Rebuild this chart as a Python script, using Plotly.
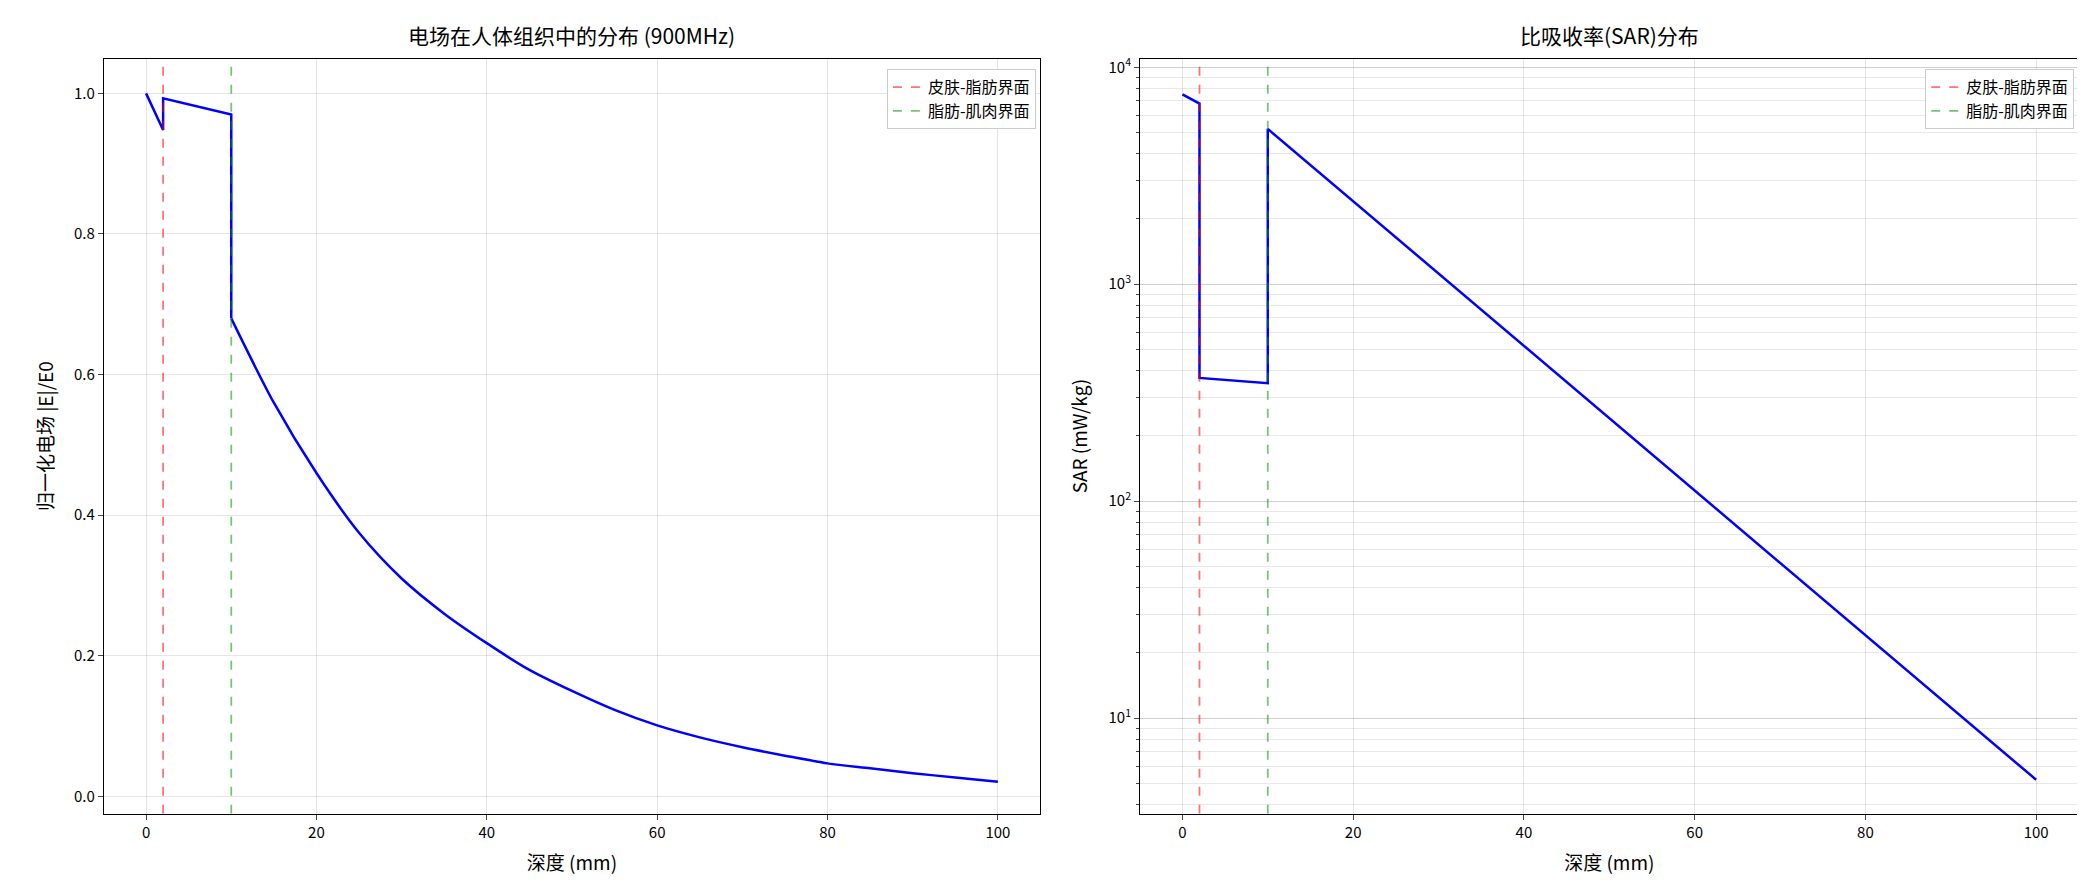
import plotly.graph_objects as go
from plotly.subplots import make_subplots

depth_e_near = [0, 2, 2, 10, 10]
e_field_near = [1.0, 0.948, 0.993, 0.970, 0.680]
depth_e_far = [10, 15, 20, 25, 30, 35, 40, 45, 50, 55, 60, 65, 70, 75, 80, 85, 90, 95, 100]
e_field_far = [0.680, 0.560, 0.460, 0.375, 0.310, 0.260, 0.218, 0.180, 0.150, 0.123, 0.101, 0.084, 0.070, 0.058, 0.047, 0.040, 0.033, 0.027, 0.021]
depth_sar = [0, 2, 2, 10, 10, 100]
sar = [7500, 6800, 370, 350, 5200, 5.2]
skin_fat = 2
fat_muscle = 10
sar_tickvals = [10, 100, 1000, 10000]
sar_ticktext = ["10<sup>1</sup>", "10<sup>2</sup>", "10<sup>3</sup>", "10<sup>4</sup>"]

font = "Noto Sans CJK SC"
fig = make_subplots(rows=1, cols=2)
fig.add_trace(go.Scatter(x=depth_e_near, y=e_field_near, mode="lines", line=dict(color="blue", width=2.5), showlegend=False), 1, 1)
fig.add_trace(go.Scatter(x=depth_e_far, y=e_field_far, mode="lines", line=dict(color="blue", width=2.5, shape="spline", smoothing=0.8), showlegend=False), 1, 1)
fig.add_trace(go.Scatter(x=depth_sar, y=sar, mode="lines", line=dict(color="blue", width=2.5), showlegend=False), 1, 2)
for col, lg in [(1, "legend"), (2, "legend2")]:
    xa = "x" if col == 1 else "x2"
    for xv, c, name in [(skin_fat, "rgba(255,0,0,0.55)", "皮肤-脂肪界面"), (fat_muscle, "rgba(0,150,0,0.55)", "脂肪-肌肉界面")]:
        fig.add_trace(go.Scatter(x=[xv, xv], y=[0, 1], yaxis=("y3" if col == 1 else "y4"), xaxis=xa,
                                 mode="lines", line=dict(color=c, width=1.8, dash="dash"), name=name, legend=lg))

fig.update_layout(
    width=2085, height=883, margin=dict(l=0, r=0, t=0, b=0),
    paper_bgcolor="white", plot_bgcolor="white",
    font=dict(family=font, size=15, color="black"),
    xaxis=dict(domain=[0.046, 0.495], range=[-4.95, 104.95], dtick=20),
    xaxis2=dict(domain=[0.543, 0.993], range=[-4.95, 104.95], dtick=20),
    yaxis=dict(domain=[0.088, 0.947], range=[-0.0245, 1.0495], dtick=0.2, tickformat=".1f"),
    yaxis2=dict(domain=[0.088, 0.947], type="log", range=[0.56, 4.04],
                tickvals=sar_tickvals, ticktext=sar_ticktext,
                minor=dict(showgrid=True, gridcolor="rgba(0,0,0,0.09)", ticks="outside", ticklen=3, dtick="D1")),
    yaxis3=dict(overlaying="y", range=[0, 1], visible=False, anchor="x"),
    yaxis4=dict(overlaying="y2", range=[0, 1], visible=False, anchor="x2"),
    legend=dict(x=0.493, y=0.935, xanchor="right", yanchor="top", bordercolor="#ccc", borderwidth=1, font=dict(size=16)),
    legend2=dict(x=0.991, y=0.935, xanchor="right", yanchor="top", bordercolor="#ccc", borderwidth=1, font=dict(size=16)),
)
for ax in ["xaxis", "xaxis2", "yaxis", "yaxis2"]:
    fig.layout[ax].update(showline=True, linecolor="black", linewidth=1.3, mirror=True, ticks="outside",
                          ticklen=5, showgrid=True, gridcolor="rgba(0,0,0,0.1)", zeroline=False)
fig.layout.xaxis.title = dict(text="深度 (mm)", font=dict(size=19))
fig.layout.xaxis2.title = dict(text="深度 (mm)", font=dict(size=19))
fig.layout.yaxis.title = dict(text="归一化电场 |E|/E0", font=dict(size=19))
fig.layout.yaxis2.title = dict(text="SAR (mW/kg)", font=dict(size=19))
fig.add_annotation(text="电场在人体组织中的分布 (900MHz)", x=0.2705, y=0.955, xref="paper", yref="paper",
                   xanchor="center", yanchor="bottom", showarrow=False, font=dict(size=21))
fig.add_annotation(text="比吸收率(SAR)分布", x=0.768, y=0.955, xref="paper", yref="paper",
                   xanchor="center", yanchor="bottom", showarrow=False, font=dict(size=21))
fig.write_html("out.html")
